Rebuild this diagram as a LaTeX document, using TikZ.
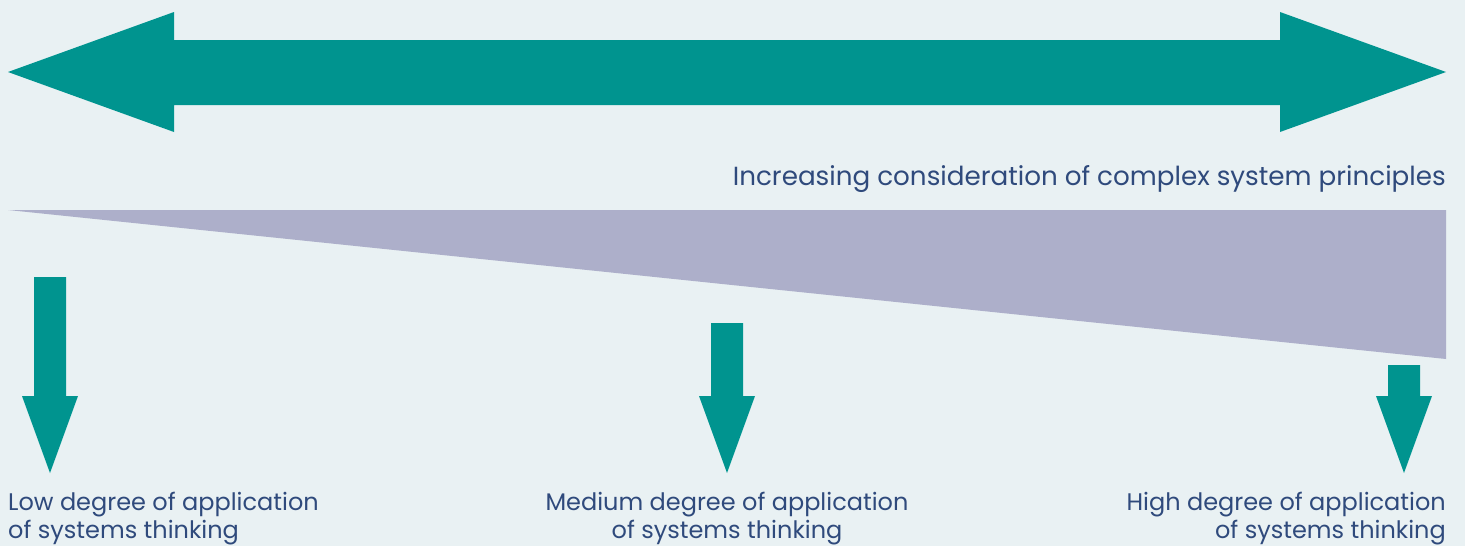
\documentclass[tikz,border=0pt]{standalone}
\usepackage{fontspec}
\setmainfont{Poppins}
\usetikzlibrary{positioning}
\definecolor{bgcol}{HTML}{E9F1F3}
\definecolor{tealcol}{HTML}{00948F}
\definecolor{wedgecol}{HTML}{ADAFCA}
\definecolor{textcol}{HTML}{2F4A7C}

\begin{document}
\begin{tikzpicture}[
    x=1pt, y=-1pt,
    arrowfill/.style={fill=tealcol, draw=none},
    caption/.style={
        font=\fontsize{24}{27.5}\selectfont,
        text=textcol,
        inner sep=0pt
    }
]
    % Background
    \fill[bgcol] (0,0) rectangle (1465,546);
    \useasboundingbox (0,0) rectangle (1465,546);

    % Double arrow
    \fill[arrowfill] (8,72) -- (174,12) -- (174,40) -- (1280,40) -- (1280,12)
        -- (1446,72) -- (1280,132) -- (1280,105) -- (174,105) -- (174,132) -- cycle;

    \node[caption, font=\fontsize{26.2}{30}\selectfont, anchor=base east] (trend) at (1446,185)
        {Increasing consideration of complex system principles};

    % Wedge
    \fill[wedgecol] (8,210) -- (1446,210) -- (1446,359) -- cycle;

    % Labels
    \node[caption, align=left, anchor=north west] (low) at (8,492)
        {Low degree of application\\of systems thinking};
    \node[caption, align=center, anchor=north] (mid) at (727,492)
        {Medium degree of application\\of systems thinking};
    \node[caption, align=right, anchor=north east] (high) at (1446,492)
        {High degree of application\\of systems thinking};

    % Down arrows
    \foreach \x/\top in {50/277, 727/323, 1404/365} {
        \fill[arrowfill] (\x-16,\top) -- (\x+16,\top) -- (\x+16,396) -- (\x+28,396)
            -- (\x,473) -- (\x-28,396) -- (\x-16,396) -- cycle;
    }
\end{tikzpicture}
\end{document}
